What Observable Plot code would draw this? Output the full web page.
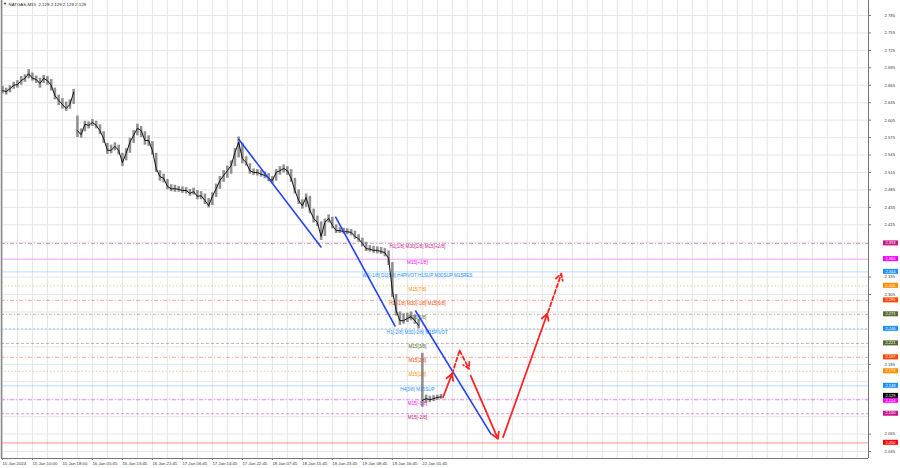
<!DOCTYPE html>
<html>
<head>
<meta charset="utf-8">
<script src="https://cdn.jsdelivr.net/npm/d3@7"></script>
<script src="https://cdn.jsdelivr.net/npm/@observablehq/plot@0.6"></script>
<style>
  html, body { margin: 0; padding: 0; background: #fff; }
  #chart svg { display: block; }
</style>
</head>
<body>
<div id="chart"></div>
<script>
// ---------- DATA ----------
const symbolTitle = "NATGAS,M15\u00a0\u00a02.129\u00a02.129\u00a02.129\u00a02.129";

// price samples: one every 4 M15 bars (bar index = 4*k)
const closes = [2.656,2.654,2.659,2.665,2.666,2.673,2.677,2.685,2.677,2.675,2.668,2.677,2.673,2.665,2.647,2.639,2.632,2.625,2.632,2.653,
  2.587,2.580,2.598,2.596,2.601,2.596,2.587,2.573,2.553,2.553,2.560,2.553,2.532,2.548,2.567,2.579,2.591,2.587,2.570,2.570,
  2.553,2.522,2.508,2.505,2.491,2.487,2.487,2.486,2.484,2.484,2.479,2.482,2.474,2.475,2.467,2.458,2.474,2.487,2.501,2.510,
  2.518,2.527,2.549,2.567,2.539,2.532,2.518,2.515,2.515,2.512,2.510,2.505,2.501,2.515,2.518,2.522,2.518,2.505,2.484,2.467,
  2.458,2.472,2.450,2.436,2.429,2.405,2.429,2.436,2.424,2.415,2.415,2.413,2.413,2.412,2.405,2.401,2.393,2.384,2.383,2.381,
  2.381,2.379,2.377,2.367,2.312,2.278,2.260,2.260,2.264,2.267,2.260,2.252,2.123,2.126,2.124,2.126,2.128,2.129];
const highs = [2.663,2.660,2.664,2.670,2.673,2.680,2.683,2.692,2.686,2.681,2.677,2.682,2.680,2.675,2.660,2.648,2.642,2.636,2.640,2.658,
  2.612,2.590,2.603,2.602,2.606,2.603,2.597,2.585,2.565,2.562,2.566,2.562,2.548,2.556,2.574,2.587,2.598,2.594,2.585,2.578,
  2.568,2.548,2.518,2.512,2.503,2.494,2.493,2.491,2.490,2.489,2.486,2.488,2.484,2.482,2.478,2.470,2.480,2.495,2.508,2.518,
  2.526,2.535,2.556,2.576,2.565,2.542,2.530,2.521,2.520,2.518,2.516,2.513,2.508,2.520,2.525,2.528,2.525,2.520,2.505,2.485,
  2.468,2.478,2.474,2.452,2.440,2.430,2.435,2.442,2.438,2.425,2.420,2.419,2.418,2.417,2.414,2.408,2.402,2.395,2.389,2.388,
  2.387,2.386,2.384,2.380,2.360,2.305,2.275,2.272,2.273,2.275,2.270,2.262,2.204,2.132,2.130,2.131,2.132,2.133];
const lows = [2.650,2.648,2.652,2.658,2.660,2.665,2.670,2.676,2.672,2.668,2.660,2.668,2.665,2.655,2.640,2.630,2.624,2.620,2.624,2.632,
  2.575,2.574,2.585,2.590,2.594,2.590,2.580,2.565,2.546,2.547,2.552,2.545,2.525,2.535,2.548,2.565,2.578,2.575,2.562,2.560,
  2.545,2.515,2.500,2.497,2.485,2.482,2.481,2.481,2.479,2.478,2.474,2.476,2.468,2.468,2.460,2.454,2.458,2.472,2.486,2.498,
  2.505,2.512,2.525,2.540,2.530,2.526,2.512,2.510,2.509,2.507,2.504,2.499,2.495,2.500,2.510,2.514,2.510,2.498,2.478,2.460,
  2.452,2.455,2.444,2.428,2.422,2.398,2.405,2.428,2.418,2.410,2.410,2.409,2.408,2.406,2.400,2.395,2.387,2.379,2.378,2.376,
  2.375,2.374,2.370,2.355,2.300,2.268,2.252,2.254,2.257,2.260,2.254,2.246,2.111,2.118,2.119,2.121,2.123,2.125];
const sessionBreaksAfter = [19, 111]; // sample index after which a price gap occurs

// trend lines (bar index, price)
const trendStartBar = [251.7, 355.2, 440.5];
const trendStartPrice = [2.573, 2.439, 2.2775];
const trendEndBar = [340.3, 419.2, 521.6];
const trendEndPrice = [2.386, 2.250, 2.064];

// forecast path (bar index, price)
const fcBar = [470.1, 479.7, 487.8, 497.8, 499.5, 528.7, 534.1, 581.3, 582.1, 596.3];
const fcPrice = [2.1284, 2.1687, 2.2087, 2.1773, 2.1657, 2.0568, 2.0596, 2.2719, 2.2746, 2.3407];

// Murrey levels
const levels = [2.393, 2.366, 2.344, 2.320, 2.295, 2.271, 2.246, 2.221, 2.197, 2.173, 2.148, 2.124, 2.100, 2.050];
const levelNames = ["H1[1/8] M30[1/8] M15[+2/8]", "M15[+1/8]", "W1[-1/8] D1[8/8] H4PIVOT H1SUP M30SUP M15RES",
  "M15[7/8]", "H1[-1/8] M30[-1/8] M15[6/8]", "M15[5/8]", "H1[-2/8] M30[-2/8] M15PIVOT", "M15[3/8]",
  "M15[2/8]", "M15[1/8]", "H4[3/8] M15SUP", "M15[-1/8]", "M15[-2/8]", ""];
const lastPrice = 2.129;

// axes
const yTicks = [2.035,2.065,2.095,2.125,2.155,2.185,2.215,2.245,2.275,2.305,2.335,2.365,2.395,2.425,2.455,2.485,2.515,2.545,2.575,2.605,2.635,2.665,2.695,2.725,2.755,2.785];
const xLabels = ["15 Jan 2024","15 Jan 10:00","15 Jan 18:00","16 Jan 05:45","16 Jan 13:45","16 Jan 21:45","17 Jan 06:45","17 Jan 14:45","17 Jan 22:45","18 Jan 07:45","18 Jan 15:45","18 Jan 23:45","19 Jan 08:45","19 Jan 16:45","22 Jan 01:45"];
const xLabelBars = [0,32,64,96,128,160,192,224,256,288,320,352,384,416,448];
const xGridBars = [0,16,32,48,64,80,96,112,128,144,160,176,192,208,224,240,256,272,288,304,320,336,352,368,384,400,416,432,448,464,480,496,512,528,544,560,576,592,608,624,640,656,672,688,704,720,736,752,768,784,800,816,832,848,864,880,896,912];

// ---------- STYLE ----------
const levelColors = ["#C8178C","#FF00FF","#1E90FF","#FF8C00","#FF4500","#556B2F","#1E90FF","#556B2F","#FF4500","#FF8C00","#1E90FF","#FF00FF","#C8178C","#FF0000"];
const levelDash = ["4,2,1,2","none","none","1.5,2","4,2,1,2","3,2,1,2","2,2","3,2","4,2,1,2","1.5,2","none","4,2,1,2","3,2","none"];
const FONT = "'Liberation Sans', Arial, sans-serif";

// ---------- BUILD ----------
const bars = closes.map((c, k) => {
  let seg = 0;
  sessionBreaksAfter.forEach(b => { if (k > b) seg++; });
  return {bar: 4 * k, close: c, high: highs[k], low: lows[k], seg};
});
const trends = trendStartBar.map((b, i) => ({x1: b, y1: trendStartPrice[i], x2: trendEndBar[i], y2: trendEndPrice[i]}));
const fc = fcBar.map((b, i) => ({x: b, y: fcPrice[i]}));
const solidArrows = [[0,1],[4,5],[6,7]].map(([a,b]) => ({x1: fc[a].x, y1: fc[a].y, x2: fc[b].x, y2: fc[b].y}));
const dashedArrows = [[2,3],[8,9]].map(([a,b]) => ({x1: fc[a].x, y1: fc[a].y, x2: fc[b].x, y2: fc[b].y}));
const dashedPlain = [fc[1], fc[2]];
const levelRows = levels.map((v, i) => ({v, name: levelNames[i], color: levelColors[i], dash: levelDash[i], i}));
const LABEL_BAR = 442.7;
// hide axis tick labels that sit under a price box
const boxValues = levels.concat([lastPrice]);
const visibleTicks = yTicks.filter(t => !boxValues.some(v => Math.abs(v - t) < 0.0075));

function priceBoxes(index, scales, values, dimensions) {
  const g = d3.create("svg:g").attr("font-family", FONT).attr("font-size", 4.0);
  const x0 = dimensions.width - dimensions.marginRight + 15;
  const rows = levelRows.concat([{v: lastPrice, color: "#000000", last: true}]);
  rows.forEach(r => {
    const y = scales.y(r.v) + (r.v === 2.124 ? 1 : 0) - (r.last ? 1 : 0);
    g.append("rect").attr("x", x0).attr("y", y - 2.5).attr("width", 15).attr("height", 5).attr("fill", r.color);
    g.append("text").attr("x", x0 + 7.5).attr("y", y + 0.2).attr("text-anchor", "middle")
      .attr("dominant-baseline", "middle").attr("fill", "#fff").text(r.v.toFixed(3));
  });
  return g.node();
}

const chart = Plot.plot({
  width: 900,
  height: 468,
  marginTop: 0,
  marginLeft: 1,
  marginRight: 32,
  marginBottom: 10,
  x: {domain: [-1, 924], axis: null},
  y: {domain: [2.023, 2.8108], axis: null},
  style: {fontFamily: FONT, background: "#ffffff", overflow: "visible"},
  marks: [
    Plot.gridX(xGridBars, {stroke: "#e6e6e6", strokeOpacity: 1}),
    Plot.gridY(yTicks, {stroke: "#e6e6e6", strokeOpacity: 1}),
    ...levelRows.map(r => Plot.ruleY([r], {y: "v", stroke: r.color, strokeDasharray: r.dash === "none" ? null : r.dash,
      strokeOpacity: r.dash === "none" ? 0.35 : 0.5, strokeWidth: r.i === 13 ? 1.3 : 0.9})),
    Plot.text(levelRows.filter(d => d.name), {x: () => LABEL_BAR, y: "v", dy: 3.6, text: "name", fill: "color", fontSize: 4.6}),
    Plot.ruleX(bars, {x: "bar", y1: "low", y2: "high", stroke: "#777", strokeWidth: 2.6, strokeOpacity: 0.8}),
    Plot.line(bars, {x: "bar", y: "close", z: "seg", stroke: "#111", strokeWidth: 1}),
    Plot.link(trends, {x1: "x1", y1: "y1", x2: "x2", y2: "y2", stroke: "#2342F5", strokeWidth: 1.6}),
    Plot.arrow(solidArrows, {x1: "x1", y1: "y1", x2: "x2", y2: "y2", stroke: "#FF2424", strokeWidth: 1.8, headLength: 6}),
    Plot.line(dashedPlain, {x: "x", y: "y", stroke: "#FF2424", strokeWidth: 1.8, strokeDasharray: "4,2.5"}),
    Plot.arrow(dashedArrows, {x1: "x1", y1: "y1", x2: "x2", y2: "y2", stroke: "#FF2424", strokeWidth: 1.8, headLength: 6, strokeDasharray: "4,2.5"}),
    Plot.ruleX([-1], {stroke: "#888", strokeWidth: 1.5}),
    Plot.ruleX([924], {stroke: "#777"}),
    Plot.ruleY([2.023], {stroke: "#777"}),
    Plot.axisY({anchor: "right", ticks: visibleTicks, tickFormat: d => d.toFixed(3), tickSize: 2, tickPadding: 14,
      fontSize: 4.2, textAnchor: "start", fill: "#333", stroke: "#777"}),
    Plot.axisX({anchor: "bottom", ticks: xLabelBars, tickFormat: (d, i) => xLabels[i], tickSize: 2, tickPadding: 1.5,
      fontSize: 4.3, textAnchor: "start", fill: "#333", stroke: "#777"}),
    priceBoxes,
    Plot.text([symbolTitle], {frameAnchor: "top-left", dx: 7, dy: 2, text: d => d, fontSize: 4.4, fill: "#222", textAnchor: "start", lineAnchor: "top"}),
    Plot.text(["▼"], {frameAnchor: "top-left", dx: 1.5, dy: 2, text: d => d, fontSize: 4, fill: "#222", textAnchor: "start", lineAnchor: "top"})
  ]
});
document.getElementById("chart").appendChild(chart);
</script>
</body>
</html>
